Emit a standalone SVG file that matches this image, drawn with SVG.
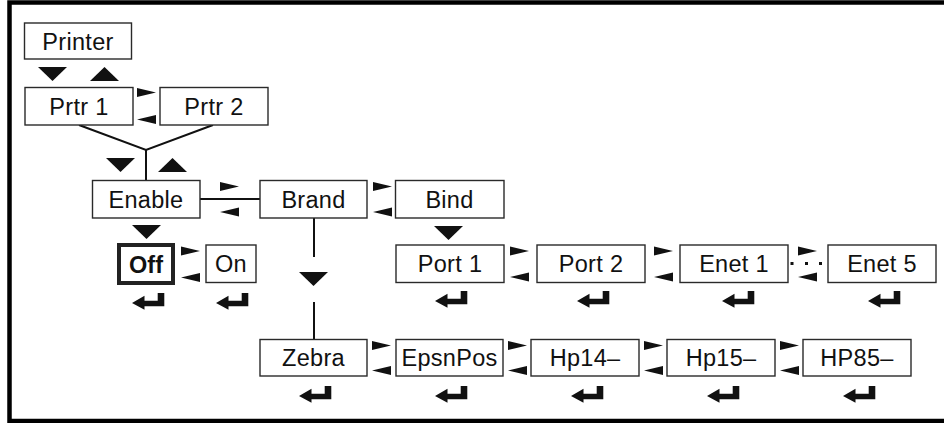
<svg xmlns="http://www.w3.org/2000/svg" xmlns:xlink="http://www.w3.org/1999/xlink" width="944" height="423" viewBox="0 0 944 423">
  <style>
    .box { fill: #ffffff; stroke: #2a2a2a; stroke-width: 1.4; }
    .sel { fill: #ffffff; stroke: #222222; stroke-width: 4; }
    .lbl { font-family: "Liberation Sans", Arial, sans-serif; font-size: 23.5px; fill: #111111; text-anchor: middle; letter-spacing: 0.3px; }
    .bold { font-weight: bold; letter-spacing: 0; }
    .line { stroke: #111111; stroke-width: 2; fill: none; }
    .frame { fill: none; stroke: #000000; stroke-width: 4.5; }
  </style>
  <defs>
    <path id="enter" d="M0,10 L12.5,2.7 L12.5,7.7 L25.7,7.7 L25.7,0 L32.3,0 L32.3,13.3 L12.5,13.3 L12.5,16.7 Z" fill="#111111"/>
    <path id="down" d="M0,0 L29,0 L14.5,14 Z" fill="#111111"/>
    <path id="up" d="M0,14 L29,14 L14.5,0 Z" fill="#111111"/>
    <path id="right" d="M0,0 L19,4.5 L0,9 Z" fill="#111111"/>
    <path id="left" d="M19,0 L0,4.5 L19,9 Z" fill="#111111"/>
  </defs>

  <rect x="9.5" y="2.5" width="960" height="418.5" class="frame"/>

  <g id="connectors">
    <polyline class="line" points="79,125 146,150 213,125"/>
    <line class="line" x1="146" y1="150" x2="146" y2="180"/>
    <line class="line" x1="200" y1="199" x2="260" y2="199"/>
    <line class="line" x1="314" y1="218" x2="314" y2="257"/>
    <line class="line" x1="314" y1="302" x2="314" y2="339"/>

    <use xlink:href="#down" x="38" y="67"/>
    <use xlink:href="#up" x="90" y="67"/>
    <use xlink:href="#down" x="106" y="158"/>
    <use xlink:href="#up" x="158" y="158"/>
    <use xlink:href="#down" x="132" y="225"/>
    <use xlink:href="#down" x="299" y="272"/>
    <use xlink:href="#down" x="434" y="226"/>

    <use xlink:href="#right" x="137" y="88"/>
    <use xlink:href="#left" x="137" y="115"/>
    <use xlink:href="#right" x="220" y="182"/>
    <use xlink:href="#left" x="220" y="207.5"/>
    <use xlink:href="#right" x="373" y="182"/>
    <use xlink:href="#left" x="373" y="207.5"/>
    <use xlink:href="#right" x="181" y="246.5"/>
    <use xlink:href="#left" x="181" y="273"/>
    <use xlink:href="#right" x="510" y="246.5"/>
    <use xlink:href="#left" x="510" y="272.5"/>
    <use xlink:href="#right" x="654" y="246.5"/>
    <use xlink:href="#left" x="654" y="272.5"/>
    <use xlink:href="#right" x="798" y="246.5"/>
    <use xlink:href="#left" x="798" y="272.5"/>
    <rect x="790.5" y="262" width="3" height="3" fill="#111111"/>
    <rect x="805" y="262" width="3" height="3" fill="#111111"/>
    <rect x="819" y="262" width="3" height="3" fill="#111111"/>
    <use xlink:href="#right" x="372" y="341"/>
    <use xlink:href="#left" x="372" y="366"/>
    <use xlink:href="#right" x="508" y="341"/>
    <use xlink:href="#left" x="508" y="366"/>
    <use xlink:href="#right" x="644" y="341"/>
    <use xlink:href="#left" x="644" y="366"/>
    <use xlink:href="#right" x="780" y="341"/>
    <use xlink:href="#left" x="780" y="366"/>
  </g>

  <g id="enter-keys">
    <use xlink:href="#enter" x="132" y="293"/>
    <use xlink:href="#enter" x="216" y="293"/>
    <use xlink:href="#enter" x="435" y="291"/>
    <use xlink:href="#enter" x="577" y="291"/>
    <use xlink:href="#enter" x="722" y="291"/>
    <use xlink:href="#enter" x="868" y="291"/>
    <use xlink:href="#enter" x="299" y="386"/>
    <use xlink:href="#enter" x="435" y="386"/>
    <use xlink:href="#enter" x="571" y="386"/>
    <use xlink:href="#enter" x="707" y="386"/>
    <use xlink:href="#enter" x="843" y="386"/>
  </g>

  <g id="node-printer"><rect class="box" x="24.5" y="23" width="107" height="36"/><text class="lbl" x="78" y="50">Printer</text></g>
  <g id="node-prtr1"><rect class="box" x="25" y="87.5" width="108" height="37.5"/><text class="lbl" x="79" y="114.5">Prtr 1</text></g>
  <g id="node-prtr2"><rect class="box" x="160" y="87.5" width="108" height="37.5"/><text class="lbl" x="214" y="114.5">Prtr 2</text></g>
  <g id="node-enable"><rect class="box" x="92.5" y="180.5" width="107.5" height="37.5"/><text class="lbl" x="146" y="207.5">Enable</text></g>
  <g id="node-brand"><rect class="box" x="260" y="180.5" width="107" height="37.5"/><text class="lbl" x="313.5" y="207.5">Brand</text></g>
  <g id="node-bind"><rect class="box" x="395.5" y="180.5" width="108.5" height="37.5"/><text class="lbl" x="449.5" y="207.5">Bind</text></g>
  <g id="node-off"><rect class="sel" x="119" y="245" width="54" height="38"/><text class="lbl bold" x="146" y="272.5">Off</text></g>
  <g id="node-on"><rect class="box" x="206" y="245" width="50" height="37.5"/><text class="lbl" x="231" y="272">On</text></g>
  <g id="node-port1"><rect class="box" x="396" y="245" width="108" height="37.5"/><text class="lbl" x="450" y="272">Port 1</text></g>
  <g id="node-port2"><rect class="box" x="537" y="245" width="108" height="37.5"/><text class="lbl" x="591" y="272">Port 2</text></g>
  <g id="node-enet1"><rect class="box" x="680" y="245" width="108" height="37.5"/><text class="lbl" x="734" y="272">Enet 1</text></g>
  <g id="node-enet5"><rect class="box" x="828" y="245" width="108" height="37.5"/><text class="lbl" x="882" y="272">Enet 5</text></g>
  <g id="node-zebra"><rect class="box" x="260" y="339.5" width="107" height="36.5"/><text class="lbl" x="313.5" y="366">Zebra</text></g>
  <g id="node-epsnpos"><rect class="box" x="396" y="339.5" width="107" height="36.5"/><text class="lbl" x="449.5" y="366">EpsnPos</text></g>
  <g id="node-hp14"><rect class="box" x="531" y="339.5" width="108" height="36.5"/><text class="lbl" x="585" y="366">Hp14–</text></g>
  <g id="node-hp15"><rect class="box" x="667" y="339.5" width="108" height="36.5"/><text class="lbl" x="721" y="366">Hp15–</text></g>
  <g id="node-hp85"><rect class="box" x="803" y="339.5" width="108" height="36.5"/><text class="lbl" x="857" y="366">HP85–</text></g>
</svg>
